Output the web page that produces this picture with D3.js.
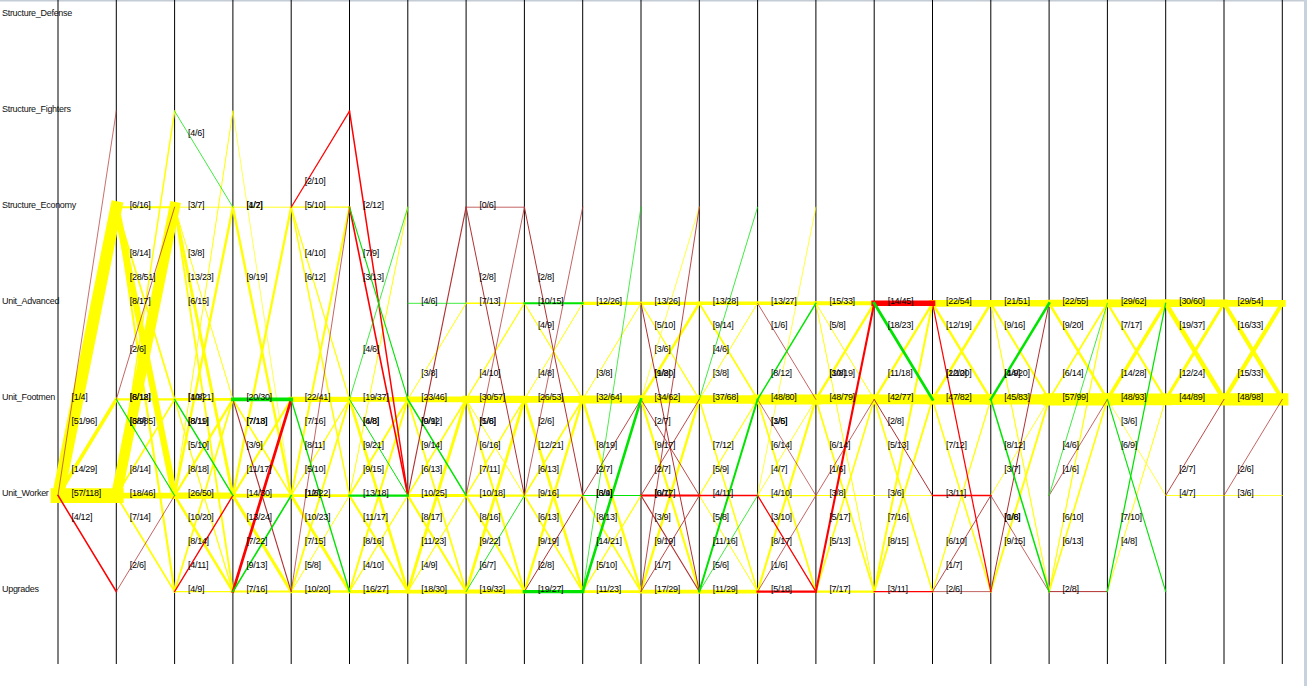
<!DOCTYPE html>
<html>
<head>
<meta charset="utf-8">
<script src="https://cdn.jsdelivr.net/npm/d3@7"></script>
<style>
  html, body { margin: 0; padding: 0; background: #fff; }
  svg { display: block; }
  text { font-family: "Liberation Sans", Arial, sans-serif; }
</style>
</head>
<body>
<div id="chart"></div>
<script>
// ---- categories (rows) ----
const rows = ["Structure_Defense", "Structure_Fighters", "Structure_Economy",
              "Unit_Advanced", "Unit_Footmen", "Unit_Worker", "Upgrades"];
const rowCode = { D: "Structure_Defense", S: "Structure_Fighters", E: "Structure_Economy",
                  A: "Unit_Advanced", F: "Unit_Footmen", W: "Unit_Worker", U: "Upgrades" };
const stepTicks = d3.range(22);

// ---- transitions per step: [from, to, successes, total] ----
const step0 = [["W","S",1,4],["W","E",51,96],["W","F",14,29],["W","W",57,118],["W","U",4,12]];
const step1 = [["E","E",6,16],["E","F",8,14],["E","W",28,51],["E","U",8,17],["F","E",2,6],
               ["F","F",8,18],["W","S",6,12],["F","W",6,9],["W","E",38,85],["W","F",8,14],
               ["W","W",18,46],["W","U",7,14],["U","W",2,6]];
const step2 = [["S","E",4,6],["E","E",3,7],["E","F",3,8],["E","W",13,23],["E","U",6,15],
               ["F","F",10,21],["W","S",4,8],["F","W",8,11],["W","E",8,19],["F","U",5,10],
               ["W","F",8,18],["W","W",26,50],["W","U",10,20],["U","F",8,14],["U","W",4,11],
               ["U","U",4,9]];
const step3 = [["E","E",4,7],["S","W",1,2],["E","W",9,19],["F","F",20,30],["F","W",7,13],
               ["W","E",7,18],["F","U",3,9],["W","F",11,17],["W","W",14,30],["W","U",13,24],
               ["U","F",7,22],["U","W",9,13],["U","U",7,16]];
const step4 = [["E","S",2,10],["E","E",5,10],["E","F",4,10],["E","W",6,12],["F","F",22,41],
               ["W","E",7,16],["F","U",8,11],["W","F",5,10],["W","W",12,22],["U","E",1,6],
               ["W","U",10,23],["U","F",7,15],["U","W",5,8],["U","U",10,20]];
const step5 = [["S","W",2,12],["E","F",7,9],["E","W",3,13],["F","E",4,6],["F","F",19,37],
               ["F","W",6,8],["W","E",4,8],["F","U",9,21],["W","F",9,15],["W","W",13,18],
               ["W","U",11,17],["U","F",8,16],["U","W",4,10],["U","U",16,27]];
const step6 = [["A","A",4,6],["F","A",3,8],["F","F",23,46],["F","W",9,12],["W","E",0,9],
               ["F","U",9,14],["W","F",6,13],["W","W",10,25],["W","U",8,17],["U","F",11,23],
               ["U","W",4,9],["U","U",18,30]];
const step7 = [["E","E",0,6],["E","W",2,8],["A","A",7,13],["F","A",4,10],["F","F",30,57],
               ["F","W",5,8],["W","E",1,6],["F","U",6,16],["W","F",7,11],["W","W",10,18],
               ["W","U",8,16],["U","F",9,22],["U","W",6,7],["U","U",19,32]];
const step8 = [["E","W",2,8],["A","A",10,15],["A","F",4,9],["F","A",4,8],["F","F",26,53],
               ["W","E",2,6],["F","U",12,21],["W","F",6,13],["W","W",9,16],["W","U",6,13],
               ["U","F",9,19],["U","W",2,8],["U","U",19,27]];
const step9 = [["A","A",12,26],["F","A",3,8],["F","F",32,64],["F","U",8,19],["W","F",2,7],
               ["W","W",6,9],["U","E",3,4],["W","U",8,13],["U","F",14,21],["U","W",5,10],
               ["U","U",11,23]];
const step10 = [["A","A",13,26],["A","F",5,10],["F","E",3,6],["F","A",9,20],["A","U",1,8],
                ["F","F",34,62],["F","W",2,7],["F","U",9,17],["W","F",2,7],["W","W",6,17],
                ["U","E",0,7],["W","U",3,9],["U","F",9,19],["U","W",1,7],["U","U",17,29]];
const step11 = [["A","A",13,28],["A","F",9,14],["F","E",4,6],["F","A",3,8],["F","F",37,68],
                ["F","U",7,12],["W","F",5,9],["W","W",4,11],["W","U",5,8],["U","F",11,16],
                ["U","W",5,6],["U","U",11,29]];
const step12 = [["A","A",13,27],["A","F",1,6],["F","A",8,12],["F","F",48,80],["W","E",3,6],
                ["F","W",1,5],["F","U",6,14],["W","F",4,7],["W","W",4,10],["W","U",3,10],
                ["U","F",8,17],["U","W",1,6],["U","U",5,18]];
const step13 = [["A","A",15,33],["A","F",5,8],["F","A",10,19],["A","U",3,8],["F","F",48,79],
                ["F","U",6,14],["W","F",1,6],["W","W",3,8],["U","A",5,17],["U","F",5,13],
                ["U","U",7,17]];
const step14 = [["A","A",14,45],["A","F",18,23],["F","A",11,18],["F","F",42,77],["F","W",2,8],
                ["F","U",5,13],["W","W",3,6],["U","A",7,16],["U","F",8,15],["U","U",3,11]];
const step15 = [["A","A",22,54],["A","F",12,19],["F","A",12,20],["A","U",2,10],["F","F",47,82],
                ["F","U",7,12],["W","W",3,11],["U","F",6,10],["U","W",1,7],["U","U",2,6]];
const step16 = [["A","A",21,51],["A","F",9,16],["F","A",14,20],["A","U",4,9],["F","F",45,83],
                ["F","U",8,12],["W","F",3,7],["W","U",0,6],["U","A",1,8],["U","F",9,15]];
const step17 = [["A","A",22,55],["A","F",9,20],["F","A",6,14],["F","F",57,99],["W","A",4,6],
                ["W","F",1,6],["U","A",6,10],["U","F",6,13],["U","U",2,8]];
const step18 = [["A","A",29,62],["A","F",7,17],["F","A",14,28],["F","F",48,93],["F","W",3,6],
                ["F","U",6,9],["U","A",7,10],["U","F",4,8]];
const step19 = [["A","A",30,60],["A","F",19,37],["F","A",12,24],["F","F",44,89],["W","F",2,7],
                ["W","W",4,7]];
const step20 = [["A","A",29,54],["A","F",16,33],["F","A",15,33],["F","F",48,98],["W","F",2,6],
                ["W","W",3,6]];

const steps = [step0, step1, step2, step3, step4, step5, step6, step7, step8, step9, step10,
               step11, step12, step13, step14, step15, step16, step17, step18, step19, step20];

// ---- drawing ----
const W = 1307, H = 686;
const svg = d3.select("#chart").append("svg").attr("width", W).attr("height", H);

const x = d3.scaleLinear().domain([0, 21]).range([58, 1282.3]);
const y = d3.scalePoint().domain(rows).range([15, 591.6]);

function colorOf(a, b) {
  const r = a / b;
  if (r >= 0.65) return "#00e400";
  if (r < 0.37) return b >= 10 ? "#ff0000" : "#b03030";
  return "#ffff00";
}
const colorRank = { "#ffff00": 0, "#b03030": 1, "#ff0000": 2, "#00e400": 3 };

// frame borders
svg.append("line").attr("x1", 0).attr("x2", W).attr("y1", 0.5).attr("y2", 0.5)
  .attr("stroke", "#c4ccd6").attr("stroke-width", 2);
svg.append("line").attr("x1", 1305.5).attr("x2", 1305.5).attr("y1", 0).attr("y2", H)
  .attr("stroke", "#c8d2de").attr("stroke-width", 3);

// vertical step axes
svg.append("g").selectAll("line").data(stepTicks).join("line")
  .attr("x1", d => x(d)).attr("x2", d => x(d))
  .attr("y1", 0).attr("y2", 664)
  .attr("stroke", "#000").attr("stroke-width", 1);

// row labels
svg.append("g").selectAll("text").data(rows).join("text")
  .attr("x", 2).attr("y", d => y(d) - 2.5)
  .attr("dominant-baseline", "central")
  .attr("font-size", 9).attr("letter-spacing", -0.3)
  .attr("fill", "#111")
  .text(d => d);

// flatten edges
const edges = [];
steps.forEach((list, i) => list.forEach(([f, t, a, b]) => {
  edges.push({ step: i, from: rowCode[f], to: rowCode[t], a, b, color: colorOf(a, b) });
}));

const drawOrder = edges.slice().sort((p, q) => colorRank[p.color] - colorRank[q.color]);

svg.append("g").selectAll("line").data(drawOrder).join("line")
  .attr("x1", d => x(d.step)).attr("y1", d => y(d.from))
  .attr("x2", d => x(d.step + 1)).attr("y2", d => y(d.to))
  .attr("stroke", d => d.color)
  .attr("stroke-width", d => Math.max(0.7, d.b / 8))
  .attr("stroke-linecap", "square");

svg.append("g").selectAll("text").data(edges).join("text")
  .attr("x", d => x(d.step) + 13.5)
  .attr("y", d => y(d.from) + 0.25 * (y(d.to) - y(d.from)) - 2.5)
  .attr("dominant-baseline", "central")
  .attr("font-size", 9).attr("letter-spacing", -0.3)
  .attr("fill", "#000")
  .text(d => `[${d.a}/${d.b}]`);
</script>
</body>
</html>
